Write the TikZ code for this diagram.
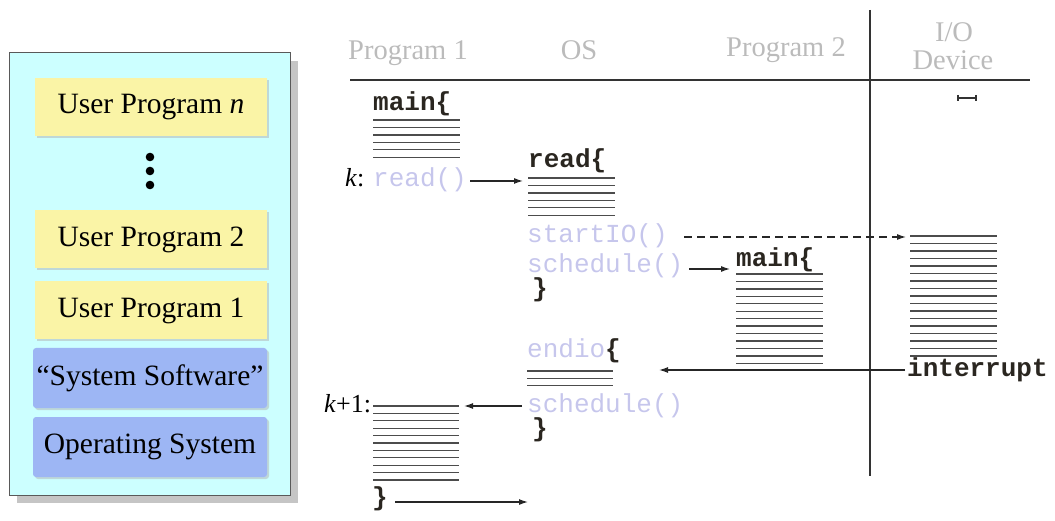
\documentclass[tikz,border=0pt]{standalone}
\usepackage{fontspec}
\setmainfont{Liberation Serif}
\setmonofont{Liberation Mono}
\usetikzlibrary{arrows.meta,shadows}
\definecolor{panelcyan}{HTML}{CCFFFF}
\definecolor{progyellow}{HTML}{FAF4A6}
\definecolor{sysblue}{HTML}{9DB6F4}
\definecolor{hdrgray}{HTML}{BBBBBB}
\definecolor{lavender}{HTML}{C6C6EC}
\definecolor{codeink}{HTML}{2A2620}
\newcommand\hatchblock[5]{%
  \foreach \i in {1,...,#4}{\draw[hatch] (#1,{#3+(\i-1)*#5}) -- (#2,{#3+(\i-1)*#5});}}
\tikzset{
  panelbox/.style={draw=black!65, line width=1pt, fill=panelcyan, inner sep=0pt,
    drop shadow={shadow xshift=8pt, shadow yshift=-8pt, fill=black!45}},
  progbox/.style={fill=progyellow, minimum width=232pt, minimum height=58pt, inner sep=0pt,
    font=\fontsize{29.5}{34}\selectfont,
    drop shadow={shadow xshift=2pt, shadow yshift=-2pt, fill=black!30}},
  sysbox/.style={fill=sysblue, rounded corners=3pt, minimum width=234pt, minimum height=60pt,
    inner sep=0pt, font=\fontsize{29.5}{34}\selectfont,
    drop shadow={shadow xshift=2pt, shadow yshift=-2pt, fill=black!30}},
  hdr/.style={text=hdrgray, font=\fontsize{28.5}{30}\selectfont, inner sep=0pt, anchor=base},
  code/.style={font=\fontsize{26}{28}\ttfamily\bfseries, text=codeink, inner sep=0pt, anchor=base west},
  callc/.style={font=\fontsize{26}{28}\ttfamily, text=lavender, inner sep=0pt, anchor=base west},
  lbl/.style={font=\fontsize{26}{28}\selectfont, inner sep=0pt, anchor=base west},
  hatch/.style={line width=1.3pt, draw=black!70},
  rule/.style={line width=2pt, draw=black!80},
  arr/.style={line width=1.2pt, draw=black!85, -{Latex[length=9pt,width=6pt]}},
  darr/.style={arr, dash pattern=on 8pt off 5pt},
}
\begin{document}
\begin{tikzpicture}[x=1pt,y=-1pt]
\useasboundingbox (0,0) rectangle (1055,521);
% ---------------- left panel ----------------
\node[panelbox, minimum width=281pt, minimum height=442pt] (panel) at (149.5,274) {};
\node[progbox] (upn) at (151,107.5) {User Program \textit{n}};
\fill (150,157) circle (4.3) (150,171) circle (4.3) (150,185) circle (4.3);
\node[progbox] (up2) at (151,239.5) {User Program 2};
\node[progbox] (up1) at (151,310.5) {User Program 1};
\node[sysbox] (sys) at (150,378) {“System Software”};
\node[sysbox] (os) at (150,447) {Operating System};
% ---------------- headers ----------------
\node[hdr] (hp1) at (408,60) {Program 1};
\node[hdr] (hos) at (579,60) {OS};
\node[hdr] (hp2) at (786,57) {Program 2};
\node[hdr] (hio1) at (954,42) {I/O};
\node[hdr] (hio2) at (953,70) {Device};
\coordinate (hl) at (350,80);
\coordinate (hr) at (1030,80);
\coordinate (vt) at (870,10);
\coordinate (vb) at (870,476);
\draw[rule] (hl) -- (hr);
\draw[rule] (vt) -- (vb);
\draw[line width=1.1pt, black!80] (958,95) -- (958,101) (958,98) -- (976,98) (976,95) -- (976,101);
% ---------------- Program 1 ----------------
\node[code] (main1) at (373,111) {main\{};
\hatchblock{373}{460}{120}{6}{7.45}
\node[lbl] (k) at (345,187) {\textit{k}:};
\node[callc] (kread) at (373,187) {read()};
% ---------------- OS read ----------------
\node[code] (readh) at (528,168) {read\{};
\hatchblock{528}{615}{178}{6}{7.45}
\node[callc] (start) at (527,243) {startIO()};
\node[callc] (sched1) at (527,273) {schedule()};
\node[code] (cl1) at (532,297) {\}};
% ---------------- Program 2 ----------------
\node[code] (main2) at (736,267) {main\{};
\hatchblock{736}{823}{274}{13}{7.45}
% ---------------- I/O device ----------------
\hatchblock{910}{997}{236}{17}{7.5}
\node[code] (intr) at (907,376) {interrupt};
% ---------------- OS endio ----------------
\node[code, text=lavender] (endio) at (527,357) {\mdseries endio\textcolor{codeink}{\bfseries\{}};
\hatchblock{527}{613}{371}{3}{7.2}
\node[callc] (sched2) at (527,412) {schedule()};
\node[code] (cl2) at (532,436) {\}};
% ---------------- Program 1 resumed ----------------
\node[lbl] (k1) at (324,412) {\textit{k}+1:};
\hatchblock{373}{459}{406}{11}{7.4}
\node[code] (cl3) at (372,505) {\}};
% ---------------- connectors ----------------
\coordinate (a1s) at (470,181); \coordinate (a1e) at (523,181);
\coordinate (a2s) at (684,237); \coordinate (a2e) at (906,237);
\coordinate (a3s) at (689,269); \coordinate (a3e) at (730,269);
\coordinate (a4s) at (905,370); \coordinate (a4e) at (659,370);
\coordinate (a5s) at (522,406); \coordinate (a5e) at (464,406);
\coordinate (a6s) at (395,502); \coordinate (a6e) at (528,502);
\draw[arr] (a1s) -- (a1e);
\draw[darr] (a2s) -- (a2e);
\draw[arr] (a3s) -- (a3e);
\draw[arr] (a4s) -- (a4e);
\draw[arr] (a5s) -- (a5e);
\draw[arr] (a6s) -- (a6e);
\end{tikzpicture}
\end{document}
